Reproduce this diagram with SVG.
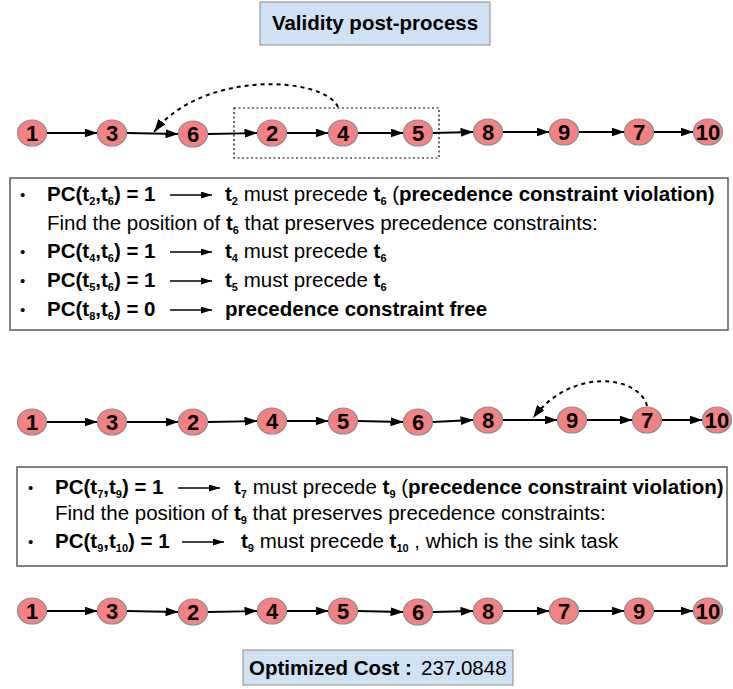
<svg xmlns="http://www.w3.org/2000/svg" width="733" height="689" viewBox="0 0 733 689">
  <style>
    text { font-family: "Liberation Sans", Arial, sans-serif; fill: #000; }
    .node ellipse { fill: #f58282; stroke: #8c8c8c; stroke-width: 1.2; }
    .node text { font-size: 22px; font-weight: bold; text-anchor: middle; }
    .edge { stroke: #000; stroke-width: 1.8; fill: none; marker-end: url(#head); }
    .move { stroke: #000; stroke-width: 2; fill: none; stroke-dasharray: 4 4; marker-end: url(#head); }
    .banner { fill: #cfe2f3; stroke: #9a9a9a; stroke-width: 1.2; }
    .panel { fill: #fff; stroke: #5a5a5a; stroke-width: 1.5; }
    .line { font-size: 20.5px; }
    .dot { font-size: 15px; }
    .b { font-weight: bold; }
    .sub { font-size: 11px; font-weight: bold; }
    .implies { stroke: #000; stroke-width: 1.5; fill: none; marker-end: url(#small); }
  </style>
  <defs>
    <marker id="head" markerUnits="userSpaceOnUse" markerWidth="13" markerHeight="9" refX="13" refY="4.5" orient="auto">
      <path d="M0,0 L13,4.5 L0,9 z" fill="#000"/>
    </marker>
    <marker id="small" markerUnits="userSpaceOnUse" markerWidth="11" markerHeight="7" refX="11" refY="3.5" orient="auto">
      <path d="M0,0 L11,3.5 L0,7 z" fill="#000"/>
    </marker>
  </defs>

  <!-- title -->
  <g id="title">
    <rect class="banner" x="260" y="2" width="230" height="43"/>
    <text x="375" y="30" font-size="20.5" font-weight="bold" text-anchor="middle">Validity post-process</text>
  </g>

  <!-- sequence 1 -->
  <rect id="window" x="234" y="108" width="205" height="50" fill="none" stroke="#000" stroke-width="1.2" stroke-dasharray="2 2.5"/>
  <g id="connectors-1">
    <line class="edge" x1="46.5" y1="133" x2="97.5" y2="133"/>
    <line class="edge" x1="126.5" y1="133" x2="178.5" y2="134"/>
    <line class="edge" x1="207.5" y1="134" x2="257.5" y2="133"/>
    <line class="edge" x1="286.5" y1="133" x2="328.5" y2="133"/>
    <line class="edge" x1="357.5" y1="133" x2="403.5" y2="133"/>
    <line class="edge" x1="432.5" y1="133" x2="473.5" y2="132"/>
    <line class="edge" x1="502.5" y1="132" x2="549.5" y2="132"/>
    <line class="edge" x1="578.5" y1="132" x2="624.5" y2="132"/>
    <line class="edge" x1="653.5" y1="132" x2="693.5" y2="132"/>
    <path class="move" d="M338,107 C324,76 202,70 154,132"/>
  </g>
  <g id="s1-n1" class="node"><ellipse cx="32" cy="133" rx="14.5" ry="13"/><text x="32" y="141">1</text></g>
  <g id="s1-n3" class="node"><ellipse cx="112" cy="133" rx="14.5" ry="13"/><text x="112" y="141">3</text></g>
  <g id="s1-n6" class="node"><ellipse cx="193" cy="134" rx="14.5" ry="13"/><text x="193" y="142">6</text></g>
  <g id="s1-n2" class="node"><ellipse cx="272" cy="133" rx="14.5" ry="13"/><text x="272" y="141">2</text></g>
  <g id="s1-n4" class="node"><ellipse cx="343" cy="133" rx="14.5" ry="13"/><text x="343" y="141">4</text></g>
  <g id="s1-n5" class="node"><ellipse cx="418" cy="133" rx="14.5" ry="13"/><text x="418" y="141">5</text></g>
  <g id="s1-n8" class="node"><ellipse cx="488" cy="132" rx="14.5" ry="13"/><text x="488" y="140">8</text></g>
  <g id="s1-n9" class="node"><ellipse cx="564" cy="132" rx="14.5" ry="13"/><text x="564" y="140">9</text></g>
  <g id="s1-n7" class="node"><ellipse cx="639" cy="132" rx="14.5" ry="13"/><text x="639" y="140">7</text></g>
  <g id="s1-n10" class="node"><ellipse cx="708" cy="132" rx="14.5" ry="13"/><text x="708" y="140">10</text></g>

  <!-- explanation 1 -->
  <g id="panel-1">
    <rect class="panel" x="10" y="178" width="718" height="152"/>
    <g class="line">
      <text x="20" y="200" class="dot">•</text>
      <text x="47" y="201" class="b">PC(t<tspan class="sub" dy="4">2</tspan><tspan dy="-4">,t</tspan><tspan class="sub" dy="4">6</tspan><tspan dy="-4">) = 1</tspan></text>
      <line class="implies" x1="170" y1="195" x2="212" y2="195"/>
      <text x="225" y="201"><tspan class="b">t</tspan><tspan class="sub" dy="4">2</tspan><tspan dy="-4"> must precede </tspan><tspan class="b">t</tspan><tspan class="sub" dy="4">6</tspan><tspan dy="-4"> (</tspan><tspan class="b">precedence constraint violation)</tspan></text>

      <text x="47" y="230">Find the position of <tspan class="b">t</tspan><tspan class="sub" dy="4">6</tspan><tspan dy="-4"> that preserves precedence constraints:</tspan></text>

      <text x="20" y="257" class="dot">•</text>
      <text x="47" y="258" class="b">PC(t<tspan class="sub" dy="4">4</tspan><tspan dy="-4">,t</tspan><tspan class="sub" dy="4">6</tspan><tspan dy="-4">) = 1</tspan></text>
      <line class="implies" x1="170" y1="252" x2="212" y2="252"/>
      <text x="225" y="258"><tspan class="b">t</tspan><tspan class="sub" dy="4">4</tspan><tspan dy="-4"> must precede </tspan><tspan class="b">t</tspan><tspan class="sub" dy="4">6</tspan></text>

      <text x="20" y="286" class="dot">•</text>
      <text x="47" y="287" class="b">PC(t<tspan class="sub" dy="4">5</tspan><tspan dy="-4">,t</tspan><tspan class="sub" dy="4">6</tspan><tspan dy="-4">) = 1</tspan></text>
      <line class="implies" x1="170" y1="281" x2="212" y2="281"/>
      <text x="225" y="287"><tspan class="b">t</tspan><tspan class="sub" dy="4">5</tspan><tspan dy="-4"> must precede </tspan><tspan class="b">t</tspan><tspan class="sub" dy="4">6</tspan></text>

      <text x="20" y="315" class="dot">•</text>
      <text x="47" y="316" class="b">PC(t<tspan class="sub" dy="4">8</tspan><tspan dy="-4">,t</tspan><tspan class="sub" dy="4">6</tspan><tspan dy="-4">) = 0</tspan></text>
      <line class="implies" x1="170" y1="310" x2="212" y2="310"/>
      <text x="225" y="316" class="b">precedence constraint free</text>
    </g>
  </g>

  <!-- sequence 2 -->
  <g id="connectors-2">
    <line class="edge" x1="46.5" y1="422" x2="97.5" y2="422"/>
    <line class="edge" x1="126.5" y1="422" x2="178.5" y2="422"/>
    <line class="edge" x1="207.5" y1="422" x2="257.5" y2="421"/>
    <line class="edge" x1="286.5" y1="421" x2="328.5" y2="421"/>
    <line class="edge" x1="357.5" y1="421" x2="403.5" y2="422"/>
    <line class="edge" x1="432.5" y1="422" x2="473.5" y2="420"/>
    <line class="edge" x1="502.5" y1="420" x2="557.5" y2="420"/>
    <line class="edge" x1="586.5" y1="420" x2="632.5" y2="420"/>
    <line class="edge" x1="661.5" y1="420" x2="702.5" y2="420"/>
    <path class="move" d="M647,406 C640,376 572,366 533,418"/>
  </g>
  <g id="s2-n1" class="node"><ellipse cx="32" cy="422" rx="14.5" ry="13"/><text x="32" y="430">1</text></g>
  <g id="s2-n3" class="node"><ellipse cx="112" cy="422" rx="14.5" ry="13"/><text x="112" y="430">3</text></g>
  <g id="s2-n2" class="node"><ellipse cx="193" cy="422" rx="14.5" ry="13"/><text x="193" y="430">2</text></g>
  <g id="s2-n4" class="node"><ellipse cx="272" cy="421" rx="14.5" ry="13"/><text x="272" y="429">4</text></g>
  <g id="s2-n5" class="node"><ellipse cx="343" cy="421" rx="14.5" ry="13"/><text x="343" y="429">5</text></g>
  <g id="s2-n6" class="node"><ellipse cx="418" cy="422" rx="14.5" ry="13"/><text x="418" y="430">6</text></g>
  <g id="s2-n8" class="node"><ellipse cx="488" cy="420" rx="14.5" ry="13"/><text x="488" y="428">8</text></g>
  <g id="s2-n9" class="node"><ellipse cx="572" cy="420" rx="14.5" ry="13"/><text x="572" y="428">9</text></g>
  <g id="s2-n7" class="node"><ellipse cx="647" cy="420" rx="14.5" ry="13"/><text x="647" y="428">7</text></g>
  <g id="s2-n10" class="node"><ellipse cx="717" cy="420" rx="14.5" ry="13"/><text x="717" y="428">10</text></g>

  <!-- explanation 2 -->
  <g id="panel-2">
    <rect class="panel" x="17" y="467" width="710" height="99"/>
    <g class="line">
      <text x="28" y="493" class="dot">•</text>
      <text x="55" y="494" class="b">PC(t<tspan class="sub" dy="4">7</tspan><tspan dy="-4">,t</tspan><tspan class="sub" dy="4">9</tspan><tspan dy="-4">) = 1</tspan></text>
      <line class="implies" x1="178" y1="488" x2="220" y2="488"/>
      <text x="234" y="494"><tspan class="b">t</tspan><tspan class="sub" dy="4">7</tspan><tspan dy="-4"> must precede </tspan><tspan class="b">t</tspan><tspan class="sub" dy="4">9</tspan><tspan dy="-4"> (</tspan><tspan class="b">precedence constraint violation)</tspan></text>

      <text x="55" y="520">Find the position of <tspan class="b">t</tspan><tspan class="sub" dy="4">9</tspan><tspan dy="-4"> that preserves precedence constraints:</tspan></text>

      <text x="28" y="547" class="dot">•</text>
      <text x="55" y="548" class="b">PC(t<tspan class="sub" dy="4">9</tspan><tspan dy="-4">,t</tspan><tspan class="sub" dy="4">10</tspan><tspan dy="-4">) = 1</tspan></text>
      <line class="implies" x1="182" y1="542" x2="224" y2="542"/>
      <text x="241" y="548"><tspan class="b">t</tspan><tspan class="sub" dy="4">9</tspan><tspan dy="-4"> must precede </tspan><tspan class="b">t</tspan><tspan class="sub" dy="4">10</tspan><tspan dy="-4"> , which is the sink task</tspan></text>
    </g>
  </g>

  <!-- sequence 3 -->
  <g id="connectors-3">
    <line class="edge" x1="46.5" y1="611" x2="97.5" y2="611"/>
    <line class="edge" x1="126.5" y1="611" x2="178.5" y2="612"/>
    <line class="edge" x1="207.5" y1="612" x2="257.5" y2="611"/>
    <line class="edge" x1="286.5" y1="611" x2="328.5" y2="611"/>
    <line class="edge" x1="357.5" y1="611" x2="403.5" y2="612"/>
    <line class="edge" x1="432.5" y1="612" x2="473.5" y2="611"/>
    <line class="edge" x1="502.5" y1="611" x2="549.5" y2="611"/>
    <line class="edge" x1="578.5" y1="611" x2="624.5" y2="611"/>
    <line class="edge" x1="653.5" y1="611" x2="693.5" y2="611"/>
  </g>
  <g id="s3-n1" class="node"><ellipse cx="32" cy="611" rx="14.5" ry="13"/><text x="32" y="619">1</text></g>
  <g id="s3-n3" class="node"><ellipse cx="112" cy="611" rx="14.5" ry="13"/><text x="112" y="619">3</text></g>
  <g id="s3-n2" class="node"><ellipse cx="193" cy="612" rx="14.5" ry="13"/><text x="193" y="620">2</text></g>
  <g id="s3-n4" class="node"><ellipse cx="272" cy="611" rx="14.5" ry="13"/><text x="272" y="619">4</text></g>
  <g id="s3-n5" class="node"><ellipse cx="343" cy="611" rx="14.5" ry="13"/><text x="343" y="619">5</text></g>
  <g id="s3-n6" class="node"><ellipse cx="418" cy="612" rx="14.5" ry="13"/><text x="418" y="620">6</text></g>
  <g id="s3-n8" class="node"><ellipse cx="488" cy="611" rx="14.5" ry="13"/><text x="488" y="619">8</text></g>
  <g id="s3-n7" class="node"><ellipse cx="564" cy="611" rx="14.5" ry="13"/><text x="564" y="619">7</text></g>
  <g id="s3-n9" class="node"><ellipse cx="639" cy="611" rx="14.5" ry="13"/><text x="639" y="619">9</text></g>
  <g id="s3-n10" class="node"><ellipse cx="708" cy="611" rx="14.5" ry="13"/><text x="708" y="619">10</text></g>

  <!-- result -->
  <g id="cost">
    <rect class="banner" x="243" y="650" width="270" height="35"/>
    <text x="249" y="675" font-size="20.5" font-weight="bold">Optimized Cost :</text>
    <text x="421" y="675" font-size="20.5">237<tspan font-weight="bold">.</tspan>0848</text>
  </g>
</svg>
